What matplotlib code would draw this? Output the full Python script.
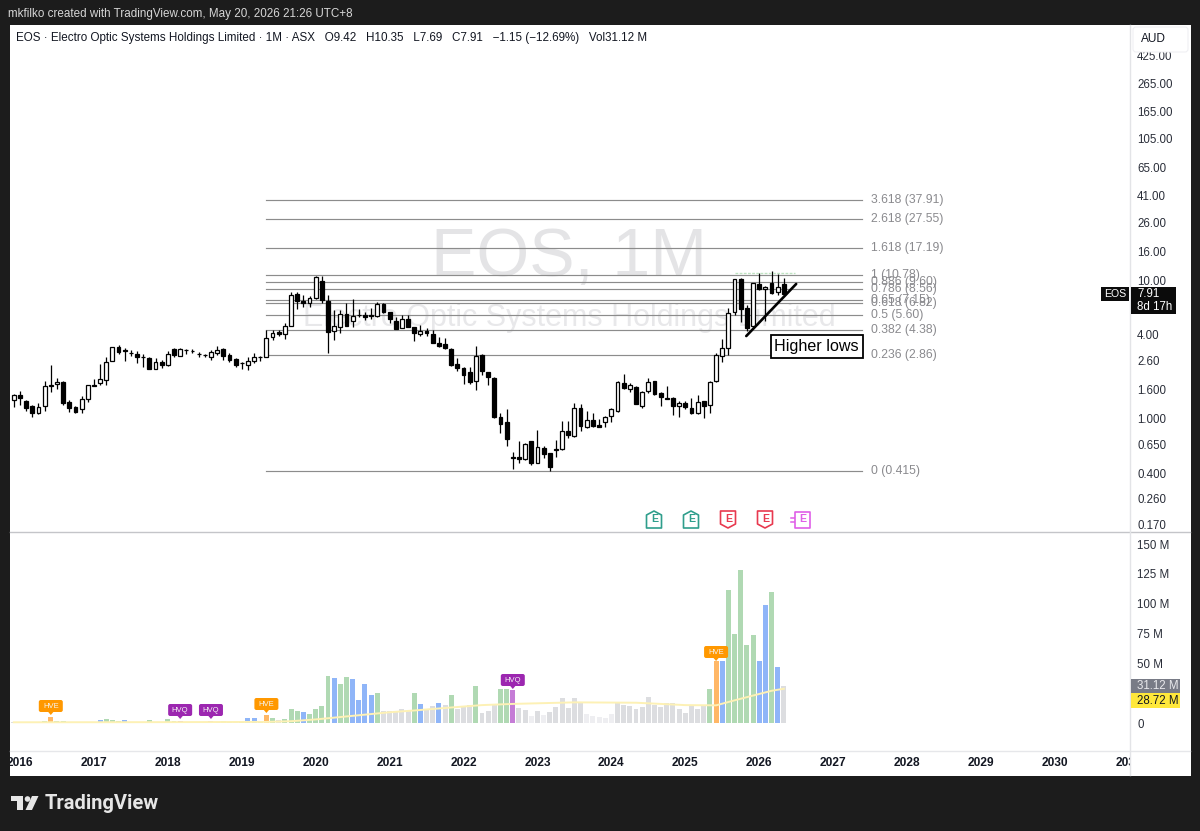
import numpy as np
import matplotlib
matplotlib.use("Agg")
import matplotlib.pyplot as plt
from matplotlib.patches import Rectangle, Polygon, FancyBboxPatch, Circle

plt.rcParams["font.family"] = ["Liberation Sans", "DejaVu Sans"]

# monthly candles, month 0 is Jan 2016
months = list(range(-1, 125))
opens = [1.35, 1.46, 1.33, 1.22, 1.09, 1.22, 1.72, 1.76, 1.82, 1.31, 1.20, 1.16, 1.37, 1.75, 1.79, 1.88, 2.59, 3.27, 3.09, 2.97,
         2.91, 2.78, 2.72, 2.26, 2.55, 2.42, 3.16, 2.81, 3.12, 3.07, 2.92, 2.87, 2.77, 2.96, 3.16, 2.86, 2.68, 2.51, 2.42, 2.59,
         2.76, 2.77, 3.86, 4.20, 4.06, 4.64, 7.92, 7.04, 6.81, 7.41, 9.84, 7.04, 4.27, 4.57, 5.67, 5.05, 5.59, 5.58, 5.58, 5.48,
         6.70, 5.86, 5.05, 4.49, 5.22, 4.57, 4.06, 4.27, 4.06, 3.49, 3.43, 3.16, 2.46, 2.30, 2.16, 1.85, 2.86, 2.16, 1.95, 1.02,
         .935, .525, .52, .504, .68, .472, .605, .557, .59, .595, .805, .74, 1.18, .86, .966, .89, .935, 1.03, 1.12, 1.79,
         1.62, 1.67, 1.22, 1.56, 1.85, 1.51, 1.40, 1.39, 1.22, 1.28, 1.18, 1.09, 1.33, 1.24, 1.85, 2.81, 3.21, 5.86, 10.16, 6.27,
         4.64, 9.36, 8.61, 9.51, 8.18, 9.42]
highs = [1.49, 1.56, 1.35, 1.24, 1.28, 1.85, 2.42, 1.95, 1.85, 1.35, 1.22, 1.44, 1.73, 1.92, 2.46, 2.77, 3.27, 3.38, 3.21, 3.11,
         3.06, 2.91, 2.77, 2.72, 2.63, 3.06, 3.21, 3.21, 3.16, 3.16, 3.01, 2.91, 3.11, 3.32, 3.21, 2.96, 2.72, 2.55, 2.77, 2.96,
         2.81, 4.34, 4.34, 4.34, 4.88, 8.18, 8.18, 7.78, 7.66, 10.69, 10.69, 7.78, 6.06, 6.06, 6.81, 7.28, 6.16, 5.86, 6.27, 6.93,
         6.81, 5.86, 5.39, 5.58, 5.58, 4.57, 4.72, 4.49, 4.34, 3.86, 3.80, 3.21, 2.72, 2.34, 2.34, 3.32, 2.91, 2.16, 1.98, 1.09,
         1.16, .566, .68, .66, .68, .818, .625, .557, .692, .95, .95, 1.28, 1.26, 1.12, 1.09, .98, 1.03, 1.18, 1.85, 2.09,
         1.79, 1.70, 1.56, 1.95, 1.85, 1.54, 1.70, 1.42, 1.33, 1.33, 1.39, 1.46, 1.33, 1.85, 2.96, 3.73, 6.27, 10.16, 10.34, 6.59,
         9.51, 11.23, 9.05, 11.61, 11.05, 10.35]
lows = [1.20, 1.24, 1.12, 1.02, 1.07, 1.12, 1.54, 1.62, 1.24, 1.10, 1.09, 1.09, 1.31, 1.70, 1.73, 1.73, 2.59, 2.91, 2.59, 2.81,
        2.50, 2.34, 2.26, 2.26, 2.30, 2.38, 2.77, 2.81, 2.91, 2.96, 2.77, 2.77, 2.63, 2.86, 2.63, 2.55, 2.34, 2.26, 2.23, 2.50,
        2.59, 2.77, 3.67, 3.93, 3.73, 4.64, 6.16, 6.37, 6.37, 7.28, 6.81, 2.96, 3.67, 4.13, 4.64, 4.57, 5.39, 5.13, 5.22, 5.39,
        5.77, 4.88, 4.42, 4.49, 4.57, 3.61, 3.93, 3.93, 3.49, 3.27, 3.16, 2.38, 2.19, 1.76, 1.76, 1.59, 2.05, 1.73, 1.00, .78,
        .625, .427, .472, .496, .456, .472, .512, .415, .52, .586, .715, .73, .805, .845, .86, .86, .86, .935, 1.10, 1.62,
        1.54, 1.26, 1.18, 1.51, 1.46, 1.22, 1.37, 1.05, 1.02, 1.16, 1.07, 1.07, 1.00, 1.09, 1.82, 2.55, 2.86, 5.58, 4.96, 4.27,
        4.49, 8.46, 5.05, 7.92, 7.78, 7.69]
closes = [1.46, 1.39, 1.18, 1.09, 1.20, 1.70, 1.74, 1.82, 1.28, 1.18, 1.10, 1.37, 1.73, 1.72, 1.92, 2.55, 3.27, 3.01, 3.07, 2.94,
          2.77, 2.76, 2.26, 2.55, 2.42, 2.91, 2.86, 3.16, 3.10, 3.05, 2.90, 2.85, 3.01, 3.11, 2.81, 2.63, 2.42, 2.49, 2.59, 2.77,
          2.78, 3.80, 4.13, 4.06, 4.64, 7.78, 7.04, 6.81, 7.41, 10.51, 7.16, 4.20, 4.64, 5.67, 4.64, 5.48, 5.57, 5.39, 5.48, 6.70,
          5.86, 5.22, 4.42, 5.22, 4.57, 4.13, 4.27, 4.13, 3.49, 3.32, 3.21, 2.42, 2.30, 2.05, 1.82, 2.81, 2.19, 1.98, 1.02, .905,
          .705, .515, .51, .65, .472, .615, .548, .441, .60, .805, .755, 1.18, .875, .966, .875, .86, 1.02, 1.16, 1.82, 1.65,
          1.73, 1.26, 1.54, 1.82, 1.49, 1.42, 1.38, 1.22, 1.28, 1.20, 1.09, 1.31, 1.22, 1.82, 2.86, 3.21, 5.77, 10.16, 6.16, 4.49,
          9.51, 8.61, 8.90, 8.05, 8.90, 7.91]

# volume in millions, same months as the candles
volumes = [.6, .6, .6, .6, .7, 2.0, 5.0, 1.4, 1.4, .8, .8, .8, .8, .8, 2.2, 3.4, 2.8, 2.0, 2.5, 1.0,
           1.0, .9, 2.5, .8, .8, 3.0, 1.4, 2.0, 1.2, .7, .7, .8, 2.0, .7, 1.7, 1.0, .7, 1.2, 4.5, 4.5,
           1.4, 6.4, 4.5, 2.2, 3.6, 11.5, 10, 9.2, 7.8, 12, 14.5, 39.7, 38, 32.7, 38.8, 37, 19.3, 33, 23.7, 24.9,
           10, 10, 10, 11.5, 10, 25, 15.6, 11, 14.5, 16.8, 14.8, 23.5, 11.7, 13.4, 15, 30.7, 8.4, 10.3, 15.4, 28.5,
           28.5, 28, 12.6, 11.2, 6, 10, 6.7, 9.5, 13, 21, 12.8, 21, 18, 7.3, 6, 4.7, 4.2, 7.5, 17.6, 14.8,
           14, 12, 13.4, 21.5, 14.8, 13.4, 16.5, 16.8, 12, 8.4, 14.5, 11.7, 14.5, 28.5, 51.7, 52, 111.7, 75, 128.5, 65,
           74, 51.7, 98.6, 109.5, 46.6, 31.12]
# u up, d down, g below average, f well below average, e HVE, q HVQ
vol_kinds = list("ggggg" "ueuu" "ggggg" "duuuduuuu" "gg" "uu" "q" "u" "ggg" "q" "g" "uu" "g" "u" "dd" "u" "e" "u" "g"
                 "uuu" "d" "uuuu" "d" "uu" "dddd" "u" "ggggg" "udggdgu" "ggg" "u" "ggg" "uu" "q" "gg" "fg" "f" "gggggg"
                 "fffff" + "g" * 15 + "ued" "uuuuu" "dd" "udg")
ma_months = [-1, 20, 40, 44, 48, 52, 56, 60, 64, 70, 75, 80, 90, 100, 108, 113, 116, 119, 122, 124]
ma_values = [.6, .7, .9, 1.5, 3, 5, 7, 9, 10.5, 13, 15, 16, 17.3, 17, 15, 14.8, 19, 23, 27, 28.72]

fib_ratios = ["3.618", "2.618", "1.618", "1", "0.886", "0.786", "0.65", "0.618", "0.5", "0.382", "0.236", "0"]
fib_prices = [37.91, 27.55, 17.19, 10.78, 9.60, 8.56, 7.15, 6.82, 5.60, 4.38, 2.86, 0.415]
fib_labels = ["37.91", "27.55", "17.19", "10.78", "9.60", "8.56", "7.15", "6.82", "5.60", "4.38", "2.86", "0.415"]

price_ticks = [425, 265, 165, 105, 65, 41, 26, 16, 10, 4, 2.6, 1.6, 1, .65, .4, .26, .17]
price_labels = ["425.00", "265.00", "165.00", "105.00", "65.00", "41.00", "26.00", "16.00", "10.00", "4.00", "2.60",
                "1.600", "1.000", "0.650", "0.400", "0.260", "0.170"]
vol_ticks = [0, 50, 75, 100, 125, 150]
vol_labels = ["0", "50 M", "75 M", "100 M", "125 M", "150 M"]
years = list(range(2016, 2032))

DARK = "#1c1c1c"
vol_colors = {"u": "#b0d9b3", "d": "#8fb5f8", "g": "#dcdde0", "f": "#eeeef1", "e": "#ffb766", "q": "#c57cd6"}


def month_px(m):
    return 20 + 6.16 * m


def pane(top, bottom, left=10, right=1129.5):
    return fig.add_axes([left / 1200, 1 - bottom / 831, (right - left) / 1200, (bottom - top) / 831])


fig = plt.figure(figsize=(12, 8.31), dpi=100, facecolor=DARK)
xlim = ((10 - 20) / 6.16, (1129.5 - 20) / 6.16)

# white sheet behind everything
bg = pane(0, 831, 0, 1200)
bg.set_xlim(0, 1200)
bg.set_ylim(831, 0)
bg.axis("off")
bg.add_patch(Rectangle((9.5, 24.5), 1181, 751, fc="white", ec="none"))

# price pane
ax = pane(25, 532)
ax.patch.set_visible(False)
ax.set_yscale("log")
ax.set_xlim(xlim)
ax.set_ylim(0.15, 701)
ax.text(569, 258, "EOS, 1M", transform=bg.transData, ha="center", va="center", fontsize=49, color="#e4e4e6", zorder=1)
ax.text(569, 318, "Electro Optic Systems Holdings Limited", transform=bg.transData, ha="center", va="center",
        fontsize=22, color="#e8e8ea", zorder=1)

fib_end = (862 - 20) / 6.16
for ratio, price, label in zip(fib_ratios, fib_prices, fib_labels):
    ax.plot([40, fib_end], [price, price], color="#8c8c8c", lw=0.85, zorder=2)
    ax.annotate(f"{ratio} ({label})", xy=(fib_end, price), xytext=(6.5, 0), textcoords="offset points",
                va="center", fontsize=8.7, color="#8a8a8e", zorder=2)

o = np.array(opens)
c = np.array(closes)
up = c >= o
ax.vlines(months, lows, highs, color="black", lw=0.9, zorder=3)
ax.bar(months, np.abs(c - o), bottom=np.minimum(o, c), width=0.62, color=np.where(up, "white", "black"),
       edgecolor="black", linewidth=0.9, zorder=4)

# pale line over the recent highs, trendline, note
ax.plot([116, 125.8], [11.15, 11.15], color="#bfe3c2", lw=1, ls=(0, (2, 1)), zorder=3)
ax.plot([117.9, 126], [3.93, 9.36], color="black", lw=1.9, zorder=5, solid_capstyle="round")
ax.add_patch(Rectangle((121.9, 2.74), 14.9, 4.02 - 2.74, fc="white", ec="black", lw=1.3, zorder=5))
ax.text(129.35, 3.32, "Higher lows", ha="center", va="center", fontsize=11.6, color="black", zorder=6)

ax.yaxis.tick_right()
ax.set_yticks(price_ticks)
ax.set_yticklabels(price_labels)
ax.minorticks_off()
ax.tick_params(axis="y", length=0, pad=5.5, labelsize=8.3, labelcolor="#2a2e39")
ax.tick_params(axis="x", length=0, labelbottom=False)
for s in ax.spines.values():
    s.set_visible(False)

# volume pane
ax_vol = pane(532, 751)
ax_vol.patch.set_visible(False)
ax_vol.set_xlim(xlim)
ax_vol.set_ylim((723 - 751) / 1.193, (723 - 532) / 1.193)
ax_vol.bar(months, volumes, width=0.8, color=[vol_colors[k] for k in vol_kinds], zorder=2)
ax_vol.plot(ma_months, ma_values, color="#fdf1b5", lw=1.4, zorder=3)
ax_vol.yaxis.tick_right()
ax_vol.set_yticks(vol_ticks)
ax_vol.set_yticklabels(vol_labels)
ax_vol.tick_params(axis="y", length=0, pad=5.5, labelsize=8.3, labelcolor="#2a2e39")
ax_vol.tick_params(axis="x", length=0, labelbottom=False)
for s in ax_vol.spines.values():
    s.set_visible(False)

# time scale, text clipped at the pane edges like the original
ax_time = pane(751, 775)
ax_time.patch.set_visible(False)
ax_time.set_xlim(xlim)
ax_time.set_ylim(0, 1)
ax_time.axis("off")
for year in years:
    ax_time.text((year - 2016) * 12, 0.5, str(year), ha="center", va="center", fontsize=8.6, fontweight="bold",
                 color="#131722", clip_on=True)

# everything on top is laid out in pixels
top = pane(0, 831, 0, 1200)
top.patch.set_visible(False)
top.set_xlim(0, 1200)
top.set_ylim(831, 0)
top.axis("off")

top.plot([10, 1190], [532, 532], color="#c4c5c9", lw=1)
top.plot([10, 1190], [751.3, 751.3], color="#e6e7ea", lw=1)
top.plot([1129.5, 1129.5], [25, 775], color="#e3e4e7", lw=1)

top.text(8, 14, "mkfilko created with TradingView.com, May 20, 2026 21:26 UTC+8", va="center", fontsize=8.35, color="#d6d6d6")
top.text(16, 38.5, "EOS · Electro Optic Systems Holdings Limited · 1M · ASX   O9.42   H10.35   L7.69   C7.91   −1.15 (−12.69%)   Vol31.12 M",
         va="center", fontsize=8.35, color="#131722")

# currency box covers the top price label
top.add_patch(FancyBboxPatch((1133, 27), 55, 25, boxstyle="round,pad=0,rounding_size=3", fc="white", ec="#f0f0f3", lw=0.8, zorder=5))
top.text(1141, 39.5, "AUD", va="center", fontsize=8.6, color="#131722", zorder=6)

# last price tags
top.add_patch(Rectangle((1101, 287), 28, 14, fc="#0b0b0b", ec="none", zorder=5))
top.text(1115, 294, "EOS", ha="center", va="center", fontsize=7.6, color="white", zorder=6)
top.add_patch(Rectangle((1131, 287), 45, 27, fc="#0b0b0b", ec="none", zorder=5))
top.text(1137, 294, "7.91", va="center", fontsize=8.3, color="white", zorder=6)
top.text(1137, 307, "8d 17h", va="center", fontsize=8.3, color="white", zorder=6)
top.add_patch(Rectangle((1130.5, 679), 49.5, 14.3, fc="#787b86", ec="none", zorder=5))
top.text(1137, 686, "31.12 M", va="center", fontsize=8.3, color="#e9e9ec", zorder=6)
top.add_patch(Rectangle((1130.5, 693.3), 49.5, 14.7, fc="#ffe83b", ec="none", zorder=5))
top.text(1137, 700.8, "28.72 M", va="center", fontsize=8.3, color="#131722", zorder=6)

# volume signal tags
tag_colors = {"HVE": "#ff9800", "HVQ": "#9c27b0"}
for m, name, y in [(5, "HVE", 706), (26, "HVQ", 710), (31, "HVQ", 710), (40, "HVE", 704), (80, "HVQ", 680), (113, "HVE", 652)]:
    x = month_px(m)
    col = tag_colors[name]
    top.add_patch(FancyBboxPatch((x - 11.5, y - 5.5), 23, 11, boxstyle="round,pad=0.5,rounding_size=2", fc=col, ec="none", zorder=5))
    top.add_patch(Polygon([(x - 3, y + 5.5), (x + 3, y + 5.5), (x, y + 9)], fc=col, ec="none", zorder=5))
    top.text(x, y, name, ha="center", va="center", fontsize=5.5, color="#f5f5f5", zorder=6)

# earnings markers
for x, kind in [(654, "up"), (691, "up"), (728, "down"), (765, "down"), (802, "next")]:
    if kind == "up":
        col = "#2f9e8c"
        pts = [(x - 7.5, 515), (x, 511), (x + 7.5, 515), (x + 7.5, 528), (x - 7.5, 528)]
    elif kind == "down":
        col = "#e8394f"
        pts = [(x - 7.5, 511), (x + 7.5, 511), (x + 7.5, 524), (x, 528), (x - 7.5, 524)]
    else:
        col = "#df5fe8"
        pts = [(x - 7.5, 511.5), (x + 8, 511.5), (x + 8, 527.5), (x - 7.5, 527.5)]
        top.plot([x - 11, x - 7], [518, 518], color=col, lw=1.1)
        top.plot([x - 11, x - 7], [522, 522], color=col, lw=1.1)
    top.add_patch(Polygon(pts, closed=True, fc="white", ec=col, lw=1.2, joinstyle="round", zorder=5))
    top.text(x + 0.3, 519.5, "E", ha="center", va="center", fontsize=7.6, fontweight="bold", color=col, zorder=6)

# TradingView logo
LOGO = "#e6e6e6"
top.add_patch(Polygon([(11, 796), (23, 796), (23, 810), (17, 810), (17, 800.5), (11, 800.5)], fc=LOGO, ec="none"))
top.add_patch(Circle((27.5, 799), 2.8, fc=LOGO, ec="none"))
top.add_patch(Polygon([(32, 796), (38.5, 796), (32, 810), (25.5, 810)], fc=LOGO, ec="none"))
top.text(45, 803.5, "TradingView", va="center", fontsize=14.5, fontweight="bold", family=["Roboto", "DejaVu Sans"], color=LOGO)

fig.savefig("out.png", dpi=100, facecolor=DARK)
